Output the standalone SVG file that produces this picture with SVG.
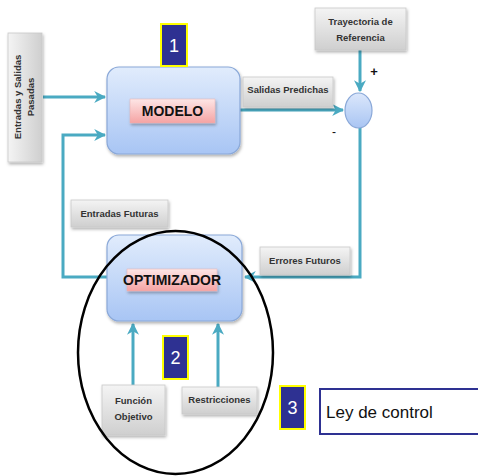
<svg xmlns="http://www.w3.org/2000/svg" width="478" height="476" viewBox="0 0 478 476">
<defs>
<linearGradient id="gBlue" x1="0" y1="0" x2="0" y2="1"><stop offset="0" stop-color="#e1ecfc"/><stop offset="1" stop-color="#a8c5f4"/></linearGradient>
<linearGradient id="gGray" x1="0" y1="0" x2="0" y2="1"><stop offset="0" stop-color="#f4f4f4"/><stop offset="1" stop-color="#cfcfcf"/></linearGradient>
<linearGradient id="gGrayH" x1="0" y1="0" x2="1" y2="0"><stop offset="0" stop-color="#f4f4f4"/><stop offset="1" stop-color="#cfcfcf"/></linearGradient>
<linearGradient id="gPink" x1="0" y1="0" x2="0" y2="1"><stop offset="0" stop-color="#fde6e6"/><stop offset="1" stop-color="#f5a3a3"/></linearGradient>
<linearGradient id="gCircle" x1="0" y1="0" x2="0" y2="1"><stop offset="0" stop-color="#dbe7fb"/><stop offset="1" stop-color="#a9c5f3"/></linearGradient>
<filter id="sh" x="-20%" y="-20%" width="140%" height="150%"><feDropShadow dx="1" dy="2" stdDeviation="1.5" flood-color="#000" flood-opacity="0.3"/></filter>
<marker id="arr" viewBox="0 0 10 10" refX="9" refY="5" markerWidth="4" markerHeight="4" orient="auto" markerUnits="strokeWidth"><path d="M0,0 L10,5 L0,10 L3,5 Z" fill="#4aaac2"/></marker>
</defs>
<style>
.line{fill:none;stroke:#4aaac2;stroke-width:3}
.big{fill:url(#gBlue);stroke:#8aa8d8;stroke-width:1.2}
.gray{fill:url(#gGray);stroke:#c8c8c8;stroke-width:0.8}
.pink{fill:url(#gPink);stroke:#e8b0b0;stroke-width:0.5}
.num{fill:#2e3192;stroke:#ffff00;stroke-width:2}
.numt{font-family:"Liberation Sans",Arial,sans-serif;font-size:18px;fill:#ffffff;text-anchor:middle}
.lbl{font-family:"Liberation Sans",Arial,sans-serif;font-size:9.5px;fill:#333;text-anchor:middle;font-weight:bold}
.title{font-family:"Liberation Sans",Arial,sans-serif;font-size:14px;fill:#111;text-anchor:middle;font-weight:bold}
</style>
<g id="connectors">
<line class="line" x1="43" y1="97" x2="105" y2="97" marker-end="url(#arr)"/>
<polyline class="line" points="107,277 63,277 63,135 105,135" marker-end="url(#arr)"/>
<line class="line" x1="240" y1="110" x2="343" y2="110" marker-end="url(#arr)"/>
<line class="line" x1="360" y1="50" x2="360" y2="91" marker-end="url(#arr)"/>
<polyline class="line" points="360,128 360,277 245,277" marker-end="url(#arr)"/>
<line class="line" x1="133" y1="385" x2="133" y2="324" marker-end="url(#arr)"/>
<line class="line" x1="218" y1="387" x2="218" y2="324" marker-end="url(#arr)"/>
</g>
<g id="pasadas">
<rect class="gray" x="8" y="33" width="34" height="129" fill="url(#gGrayH)" filter="url(#sh)" style="fill:url(#gGrayH)"/>
<text class="lbl" transform="translate(21,97) rotate(-90)" x="0" y="0">Entradas y Salidas</text>
<text class="lbl" transform="translate(34,97) rotate(-90)" x="0" y="0">Pasadas</text>
</g>
<g id="modelo">
<rect class="big" x="107" y="67" width="133" height="87" rx="12" filter="url(#sh)"/>
<rect class="pink" x="130" y="99" width="85" height="24" filter="url(#sh)"/>
<text class="title" x="172.5" y="116">MODELO</text>
</g>
<g id="n1">
<rect class="num" x="161" y="24" width="26" height="42"/>
<text class="numt" x="174" y="52">1</text>
</g>
<g id="salidas">
<rect class="gray" x="243" y="77" width="90" height="30" filter="url(#sh)"/>
<text class="lbl" x="288" y="93">Salidas  Predichas</text>
</g>
<g id="trayectoria">
<rect class="gray" x="315" y="8" width="91" height="42" filter="url(#sh)"/>
<text class="lbl" x="360.5" y="25">Trayectoria de</text>
<text class="lbl" x="360.5" y="41">Referencia</text>
</g>
<g id="sumador">
<ellipse cx="358.5" cy="110.5" rx="13.5" ry="17.5" fill="url(#gCircle)" stroke="#8aa8d8" stroke-width="1.2"/>
<text x="374" y="76" font-family="Liberation Sans,Arial,sans-serif" font-size="13" font-weight="bold" fill="#111" text-anchor="middle">+</text>
<text x="334" y="136" font-family="Liberation Sans,Arial,sans-serif" font-size="12" fill="#111" text-anchor="middle">-</text>
</g>
<g id="entradasFuturas">
<rect class="gray" x="71" y="200" width="97" height="27" filter="url(#sh)"/>
<text class="lbl" x="119.5" y="217">Entradas Futuras</text>
</g>
<g id="erroresFuturos">
<rect class="gray" x="260" y="247" width="90" height="28" filter="url(#sh)"/>
<text class="lbl" x="305" y="264">Errores Futuros</text>
</g>
<g id="optimizador">
<rect class="big" x="107" y="235" width="135" height="86" rx="12" filter="url(#sh)"/>
<rect class="pink" x="127" y="269" width="90" height="22" filter="url(#sh)"/>
<text class="title" x="172" y="285">OPTIMIZADOR</text>
</g>
<g id="funcion">
<rect class="gray" x="102" y="385" width="63" height="50" filter="url(#sh)"/>
<text class="lbl" x="133.5" y="404">Función</text>
<text class="lbl" x="133.5" y="420">Objetivo</text>
</g>
<g id="restricciones">
<rect class="gray" x="182" y="387" width="75" height="27" filter="url(#sh)"/>
<text class="lbl" x="219.5" y="403">Restricciones</text>
</g>
<g id="n2">
<rect class="num" x="163" y="336" width="25" height="43"/>
<text class="numt" x="175.5" y="364">2</text>
</g>
<g id="elipse">
<ellipse cx="175.5" cy="352.5" rx="97.5" ry="121.5" fill="none" stroke="#000" stroke-width="2.5"/>
</g>
<g id="n3">
<rect class="num" x="280" y="386" width="25" height="43"/>
<text class="numt" x="292.5" y="414">3</text>
</g>
<g id="ley">
<rect x="320" y="389" width="162" height="45" fill="#fff" stroke="#2e3192" stroke-width="2"/>
<text x="326" y="418" font-family="Liberation Sans,Arial,sans-serif" font-size="17" fill="#111">Ley de control</text>
</g>
</svg>
